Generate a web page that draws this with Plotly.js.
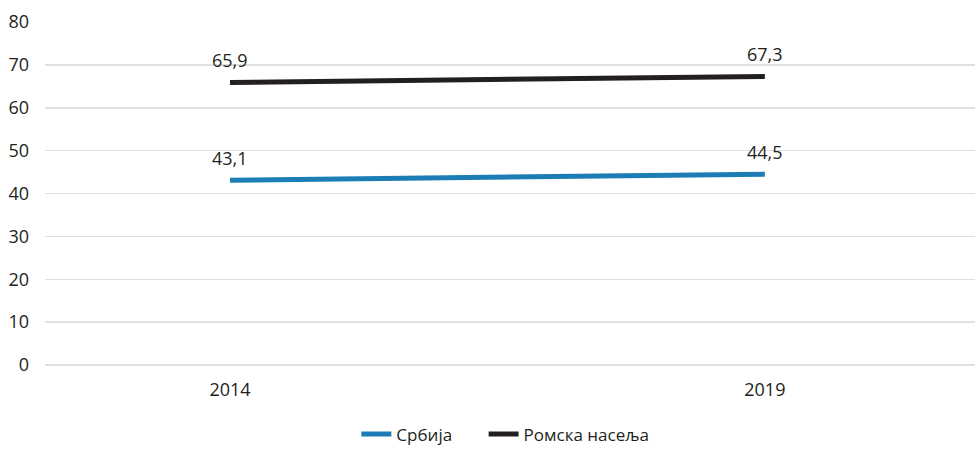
<!DOCTYPE html>
<html>
<head>
<meta charset="utf-8">
<script src="https://cdn.plot.ly/plotly-3.0.1.min.js"></script>
<style>html,body{margin:0;padding:0;background:#fff;}#chart{width:975px;height:450px;}</style>
</head>
<body>
<div id="chart"></div>
<script>
var years = ['2014', '2019'];
var seriesNames = ['Србија', 'Ромска насеља'];
var srbija = [43.1, 44.5];
var romska = [65.9, 67.3];
var yTicks = [0, 10, 20, 30, 40, 50, 60, 70, 80];

var colors = ['#1b7db4', '#231f20'];
var font = 'Open Sans, DejaVu Sans, sans-serif';
var txtColor = '#231f20';
var gridColor = '#e0e0e0';
var pad = '\u00A0\u00A0\u00A0\u00A0\u00A0\u00A0';

var data = [
  {x: years, y: srbija, name: seriesNames[0] + pad, type: 'scatter', mode: 'lines',
   line: {color: colors[0], width: 5}, hoverinfo: 'skip'},
  {x: years, y: romska, name: seriesNames[1], type: 'scatter', mode: 'lines',
   line: {color: colors[1], width: 5}, hoverinfo: 'skip'}
];

function fmt(v) { return v.toFixed(1).replace('.', ','); }
var annotations = [];
[srbija, romska].forEach(function (arr) {
  arr.forEach(function (v, i) {
    annotations.push({xref: 'x', yref: 'y', x: i, y: v, text: fmt(v), showarrow: false,
      yshift: 22, font: {family: font, size: 18, color: txtColor}});
  });
});

var layout = {
  width: 975, height: 450,
  margin: {l: 45, r: 0, t: 22, b: 85, autoexpand: false},
  paper_bgcolor: '#fff', plot_bgcolor: '#fff',
  font: {family: font, size: 18, color: txtColor},
  xaxis: {type: 'category', range: [-0.346, 1.393], showgrid: false, zeroline: false,
    showline: false, ticks: '', ticklabelstandoff: 12,
    tickfont: {family: font, size: 18, color: txtColor}},
  yaxis: {range: [0, 80], tickvals: yTicks, showgrid: true, gridcolor: gridColor, gridwidth: 1.5,
    zeroline: true, zerolinecolor: gridColor, zerolinewidth: 1.5,
    showline: false, ticks: '', ticklabelstandoff: 15,
    tickfont: {family: font, size: 18, color: txtColor}},
  showlegend: true,
  legend: {orientation: 'h', x: 0.495, xanchor: 'center', y: -0.15, yanchor: 'top',
    font: {family: font, size: 17, color: txtColor}, traceorder: 'normal'},
  annotations: annotations
};

Plotly.newPlot('chart', data, layout, {staticPlot: true, displayModeBar: false});
</script>
</body>
</html>
